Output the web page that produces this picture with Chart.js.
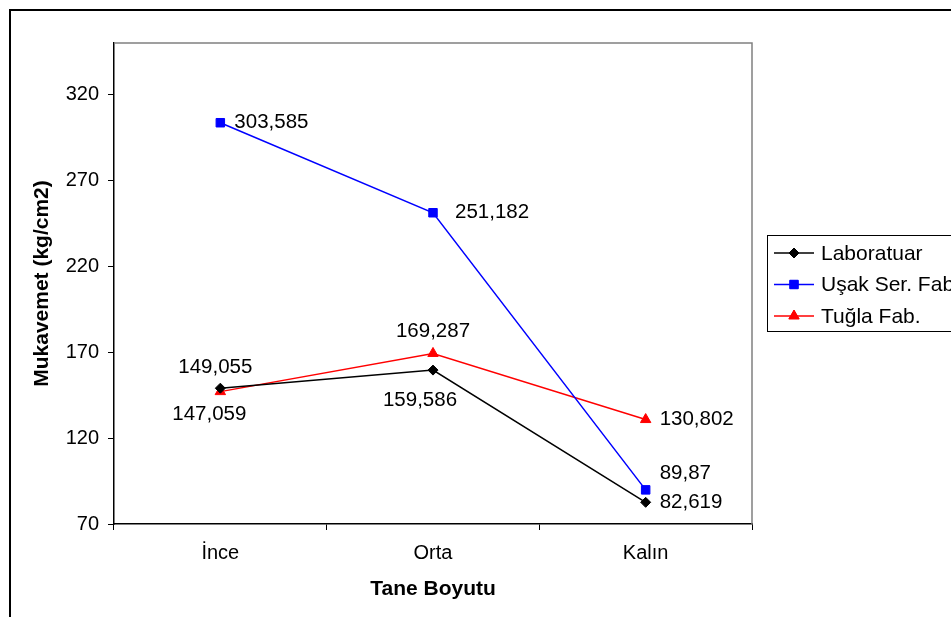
<!DOCTYPE html>
<html>
<head>
<meta charset="utf-8">
<script src="https://cdn.jsdelivr.net/npm/chart.js@4/dist/chart.umd.min.js"></script>
<style>
  html, body { margin: 0; padding: 0; background: #fff; overflow: hidden; }
  #wrap { width: 951px; height: 617px; position: relative; }
</style>
</head>
<body>
<div id="wrap"><canvas id="c" width="951" height="617"></canvas></div>
<script>
// Grain size categories and strength values (kg/cm2) per source
const categories = ['İnce', 'Orta', 'Kalın'];
const laboratuar = [149.055, 159.586, 82.619];
const usakSerFab = [303.585, 251.182, 89.87];
const tuglaFab = [147.059, 169.287, 130.802];
const seriesNames = ['Laboratuar', 'Uşak Ser. Fab.', 'Tuğla Fab.'];
const yTicks = [70, 120, 170, 220, 270, 320];

const FONT = "'Liberation Sans', Arial, sans-serif";

// Where each value label sits relative to its point: [dx, dy, textAlign]
const labelPlacement = [
  [[-5, -21, 'center'], [-13, 30, 'center'], [14, 0, 'left']],
  [[14, 0, 'left'], [22, 0, 'left'], [14, -17, 'left']],
  [[-11, 23, 'center'], [0, -22, 'center'], [14, 0, 'left']]
];

const styles = [
  { color: '#000000', pointStyle: 'rectRot', radius: 5 },
  { color: '#0000ff', pointStyle: 'rect', radius: 6 },
  { color: '#ff0000', pointStyle: 'triangle', radius: 6 }
];

function fmt(v) { return String(v).replace('.', ','); }

const frame = {
  id: 'frame',
  beforeDraw(chart) {
    const ctx = chart.ctx;
    ctx.save();
    ctx.fillStyle = '#fff';
    ctx.fillRect(0, 0, chart.width, chart.height);
    ctx.strokeStyle = '#000';
    ctx.lineWidth = 2;
    ctx.strokeRect(10, 10, 1000, 1000);
    ctx.restore();
  },
  afterDraw(chart) {
    const ctx = chart.ctx;
    const a = chart.chartArea;
    ctx.save();
    // plot area top and right edges
    ctx.strokeStyle = '#808080';
    ctx.lineWidth = 1.5;
    ctx.beginPath();
    ctx.moveTo(a.left, a.top);
    ctx.lineTo(a.right, a.top);
    ctx.lineTo(a.right, a.bottom);
    ctx.stroke();

    // value labels
    ctx.fillStyle = '#000';
    ctx.font = '20.5px ' + FONT;
    ctx.textBaseline = 'middle';
    chart.data.datasets.forEach((ds, i) => {
      const meta = chart.getDatasetMeta(i);
      meta.data.forEach((pt, j) => {
        const [dx, dy, align] = labelPlacement[i][j];
        ctx.textAlign = align;
        ctx.fillText(fmt(ds.data[j]), pt.x + dx, pt.y + dy);
      });
    });

    // legend box
    ctx.strokeStyle = '#000';
    ctx.lineWidth = 1;
    ctx.strokeRect(767.5, 235.5, 300, 96);
    const rows = [253, 284.5, 316];
    ctx.textAlign = 'left';
    ctx.font = '21px ' + FONT;
    chart.data.datasets.forEach((ds, i) => {
      const y = rows[i];
      const s = styles[i];
      ctx.strokeStyle = s.color;
      ctx.lineWidth = 1.5;
      ctx.beginPath();
      ctx.moveTo(774, y);
      ctx.lineTo(814, y);
      ctx.stroke();
      ctx.fillStyle = s.color;
      ctx.lineWidth = 1;
      Chart.helpers.drawPoint(ctx, { pointStyle: s.pointStyle, radius: s.radius, rotation: 0, borderWidth: 1 }, 794, y);
      ctx.fill();
      ctx.fillStyle = '#000';
      ctx.fillText(ds.label, 821, y + 1);
    });
    ctx.restore();
  }
};

const seriesData = [laboratuar, usakSerFab, tuglaFab];

new Chart(document.getElementById('c'), {
  type: 'line',
  data: {
    labels: categories,
    datasets: seriesData.map((d, i) => ({
      label: seriesNames[i],
      data: d,
      borderColor: styles[i].color,
      backgroundColor: styles[i].color,
      borderWidth: 1.5,
      pointStyle: styles[i].pointStyle,
      pointRadius: styles[i].radius,
      pointBorderWidth: 1,
      pointBorderColor: styles[i].color,
      pointBackgroundColor: styles[i].color,
      tension: 0,
      fill: false
    }))
  },
  options: {
    responsive: false,
    animation: false,
    devicePixelRatio: 1,
    layout: { padding: { left: 0, top: 43, right: 199, bottom: 0 } },
    plugins: {
      legend: { display: false },
      tooltip: { enabled: false }
    },
    scales: {
      x: {
        offset: true,
        grid: { display: true, drawOnChartArea: false, drawTicks: true, tickLength: 6, offset: true, color: '#000', lineWidth: 1 },
        border: { display: true, color: '#000', width: 1.5 },
        ticks: { color: '#000', font: { family: FONT, size: 20 }, padding: 11, maxRotation: 0 },
        title: { display: true, text: 'Tane Boyutu', color: '#000', font: { family: FONT, size: 21, weight: 'bold' }, padding: { top: 0, bottom: 15 } },
        afterFit(s) { s.height = 93; }
      },
      y: {
        min: 70,
        max: 350,
        afterBuildTicks(s) { s.ticks = yTicks.map(v => ({ value: v })); },
        grid: { display: true, drawOnChartArea: false, drawTicks: true, tickLength: 6, color: '#000', lineWidth: 1 },
        border: { display: true, color: '#000', width: 1.5 },
        ticks: { color: '#000', font: { family: FONT, size: 20 }, padding: 9 },
        title: { display: true, text: 'Mukavemet (kg/cm2)', color: '#000', font: { family: FONT, size: 21, weight: 'bold' }, padding: { top: 30, bottom: 0 } },
        afterFit(s) { s.width = 114; }
      }
    }
  },
  plugins: [frame]
});
</script>
</body>
</html>
